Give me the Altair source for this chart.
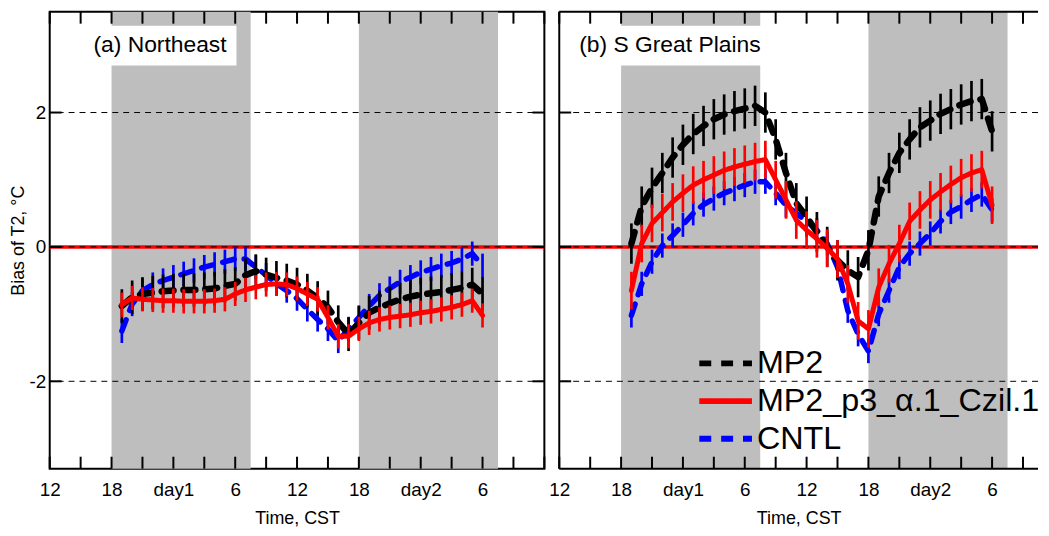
import altair as alt
import pandas as pd

FONT = "Liberation Sans"

hours = list(range(19, 55))
series_names = ["MP2", "MP2_p3_\u03b1.1_Czil.1", "CNTL"]
series_colors = ["#000000", "#ff0000", "#0000ff"]
series_widths = [6.5, 5, 5.5]
series_dashes = [[12, 10], [1, 0], [12, 10]]

# (a) Northeast
ne_mp2 = [-0.88, -0.75, -0.70, -0.68, -0.66, -0.65, -0.64, -0.64, -0.63, -0.62, -0.58, -0.55,
          -0.42, -0.36, -0.41, -0.46, -0.50, -0.56, -0.65, -0.76, -0.90, -1.12, -1.30, -1.13,
          -0.98, -0.90, -0.84, -0.78, -0.74, -0.71, -0.69, -0.67, -0.64, -0.61, -0.56, -0.70]
ne_p3 = [-0.86, -0.76, -0.78, -0.79, -0.80, -0.80, -0.81, -0.81, -0.81, -0.80, -0.78, -0.70,
         -0.64, -0.60, -0.56, -0.55, -0.56, -0.62, -0.70, -0.78, -1.05, -1.33, -1.33, -1.22,
         -1.13, -1.08, -1.05, -1.03, -1.01, -0.98, -0.96, -0.93, -0.90, -0.86, -0.80, -1.02]
ne_cntl = [-1.25, -0.85, -0.65, -0.56, -0.50, -0.45, -0.40, -0.35, -0.30, -0.26, -0.22, -0.18,
           -0.18, -0.30, -0.42, -0.55, -0.65, -0.77, -0.93, -1.08, -1.22, -1.40, -1.22, -1.05,
           -0.88, -0.72, -0.62, -0.52, -0.45, -0.38, -0.33, -0.28, -0.24, -0.18, -0.10, -0.28]
ne_err = [0.25, 0.18, 0.18]

# (b) S Great Plains
sgp_mp2 = [0.05, 0.60, 0.88, 1.10, 1.33, 1.52, 1.68, 1.80, 1.90, 1.97, 2.02, 2.06,
           2.10, 2.00, 1.60, 1.10, 0.65, 0.45, 0.22, 0.00, -0.20, -0.35, -0.45, -0.05,
           0.75, 1.10, 1.40, 1.60, 1.78, 1.88, 1.98, 2.05, 2.12, 2.17, 2.20, 1.72]
sgp_p3 = [-0.65, 0.05, 0.35, 0.51, 0.67, 0.80, 0.92, 1.00, 1.07, 1.14, 1.19, 1.23,
          1.27, 1.30, 1.00, 0.70, 0.40, 0.25, 0.12, -0.02, -0.18, -0.55, -1.10, -1.22,
          -0.60, -0.25, 0.05, 0.38, 0.55, 0.70, 0.82, 0.93, 1.03, 1.10, 1.15, 0.62]
sgp_cntl = [-1.02, -0.55, -0.22, 0.02, 0.17, 0.33, 0.50, 0.63, 0.72, 0.80, 0.86, 0.92,
            0.97, 0.97, 0.80, 0.62, 0.50, 0.38, 0.25, 0.05, -0.30, -0.95, -1.30, -1.55,
            -1.00, -0.65, -0.30, -0.10, 0.05, 0.20, 0.38, 0.52, 0.60, 0.70, 0.78, 0.55]
sgp_err = [0.30, 0.28, 0.18]

night_starts = [18, 42]
night_ends = [31.5, 55.5]

x_label_values = [12, 18, 24, 30, 36, 42, 48, 54]
x_label_texts = ["12", "18", "day1", "6", "12", "18", "day2", "6"]
x_tick_values = list(range(12, 61, 3))
y_label_values = [-2, 0, 2]

H = 460
W_A = 498
W_B = 482
Y_DOMAIN = [-3.3, 3.5]
XMAX_A = 60
XMAX_B = 12 + W_B * 48 / W_A

x_label_expr = " : ".join(
    f"datum.value == {v} ? '{t}'" for v, t in zip(x_label_values, x_label_texts)
) + " : ''"


def panel_df(vals_list, errs):
    rows = []
    for name, vals, e in zip(series_names, vals_list, errs):
        for h, v in zip(hours, vals):
            rows.append(dict(hour=h, value=v, lo=v - e, hi=v + e, series=name))
    return pd.DataFrame(rows)


def build_panel(vals_list, errs, label, label_x, box_x0, box_x1, xmax, width, first):
    xscale = alt.Scale(domain=[12, xmax], nice=False, zero=False)
    yscale = alt.Scale(domain=Y_DOMAIN, nice=False, zero=False)
    xaxis = alt.Axis(values=x_label_values, labelExpr=x_label_expr, ticks=False, domain=False,
                     grid=False, labelFontSize=19, labelFont=FONT, labelColor="black",
                     labelPadding=12, labelFlush=False, labelOverlap=False,
                     title="Time, CST", titleFont=FONT, titleFontSize=18,
                     titleFontWeight="normal", titleColor="black", titlePadding=10)
    if first:
        yaxis = alt.Axis(values=y_label_values, labelExpr="'' + datum.value", ticks=False,
                         domain=False, grid=False, labelFontSize=19, labelFont=FONT,
                         labelColor="black", labelPadding=4, title="Bias of T2, \u00b0C",
                         titleFont=FONT, titleFontSize=18, titleFontWeight="normal",
                         titleColor="black", titlePadding=2)
    else:
        yaxis = None

    def X(f):
        return alt.X(f, type="quantitative", scale=xscale, axis=xaxis)

    def Y(f):
        return alt.Y(f, type="quantitative", scale=yscale, axis=yaxis)

    cscale = alt.Scale(domain=series_names, range=series_colors)
    dscale = alt.Scale(domain=series_names, range=series_dashes)

    df = panel_df(vals_list, errs)
    layers = []

    bands = alt.Chart(pd.DataFrame({"s": night_starts, "e": night_ends})).mark_rect(
        color="#bebebe").encode(x=X("s"), x2="e", y=alt.value(0), y2=alt.value(H))
    layers.append(bands)

    box = alt.Chart(pd.DataFrame({"x0": [box_x0], "x1": [box_x1], "y0": [3.29], "y1": [2.70]})
                    ).mark_rect(color="white").encode(x=X("x0"), x2="x1", y=Y("y0"), y2="y1")
    layers.append(box)

    grid = alt.Chart(pd.DataFrame({"v": [-2, 2]})).mark_rule(
        color="black", strokeWidth=1, strokeDash=[6, 5]).encode(y=Y("v"))
    layers.append(grid)

    zero_df = pd.DataFrame({"v": [0]})
    layers.append(alt.Chart(zero_df).mark_rule(color="#ff0000", strokeWidth=3.5).encode(y=Y("v")))
    layers.append(alt.Chart(zero_df).mark_rule(color="black", strokeWidth=1,
                                               strokeDash=[6, 5]).encode(y=Y("v")))

    for i in [2, 0, 1]:
        name = series_names[i]
        sub = df[df.series == name]
        layers.append(alt.Chart(sub).mark_rule(color=series_colors[i], strokeWidth=2.7).encode(
            x=X("hour"), y=Y("lo"), y2="hi"))
        if first:
            enc = dict(color=alt.Color("series:N", scale=cscale, legend=None),
                       strokeDash=alt.StrokeDash("series:N", scale=dscale, legend=None))
        else:
            enc = dict(color=alt.Color("series:N", scale=cscale, title=""),
                       strokeDash=alt.StrokeDash("series:N", scale=dscale, title=""))
        layers.append(alt.Chart(sub).mark_line(strokeWidth=series_widths[i], strokeCap="round",
                                               strokeJoin="round").encode(
            x=X("hour"), y=Y("value"), **enc))

    xt = alt.Chart(pd.DataFrame({"t": [t for t in x_tick_values if t <= xmax]})).mark_rule(
        color="black", strokeWidth=2)
    layers.append(xt.encode(x=X("t"), y=alt.value(H - 12), y2=alt.value(H)))
    layers.append(xt.encode(x=X("t"), y=alt.value(0), y2=alt.value(12)))
    yt = alt.Chart(pd.DataFrame({"v": y_label_values})).mark_rule(color="black", strokeWidth=2)
    layers.append(yt.encode(y=Y("v"), x=alt.value(0), x2=alt.value(12)))
    if first:
        layers.append(yt.encode(y=Y("v"), x=alt.value(width - 12), x2=alt.value(width)))
    else:
        edge = alt.Chart(pd.DataFrame({"x": [12], "ytop": [Y_DOMAIN[1]], "ybot": [Y_DOMAIN[0]]})
                         ).mark_rule(color="black", strokeWidth=2)
        layers.append(edge.encode(x=X("x"), y=alt.value(0), y2=alt.value(H)))
        layers.append(edge.encode(y=Y("ytop"), x=alt.value(0), x2=alt.value(width)))
        layers.append(edge.encode(y=Y("ybot"), x=alt.value(0), x2=alt.value(width)))

    txt = alt.Chart(pd.DataFrame({"t": [label], "x": [label_x], "y": [3.0]})).mark_text(
        align="left", baseline="middle", fontSize=23, font=FONT, color="black").encode(
        x=X("x"), y=Y("y"), text="t:N")
    layers.append(txt)

    if first:
        view = alt.ViewBackground(stroke="black", strokeWidth=2)
    else:
        view = alt.ViewBackground(stroke="transparent")
    return alt.layer(*layers).properties(width=width, height=H, view=view)


panel_a = build_panel([ne_mp2, ne_p3, ne_cntl], ne_err, "(a) Northeast",
                      16.24, 15.76, 30.12, XMAX_A, W_A, True)
panel_b = build_panel([sgp_mp2, sgp_p3, sgp_cntl], sgp_err, "(b) S Great Plains",
                      13.93, 13.3, 31.8, XMAX_B, W_B, False)

chart = alt.hconcat(panel_a, panel_b, spacing=0).resolve_scale(
    x="independent", y="independent", color="independent", strokeDash="independent"
).properties(padding={"left": 0, "top": 0, "right": 0, "bottom": 0}).configure_legend(
    orient="none", legendX=138, legendY=335, symbolType="stroke", symbolSize=2809,
    symbolStrokeWidth=6, labelFontSize=32.5, labelFont=FONT, labelColor="black", padding=0,
    labelOffset=2, rowPadding=0, titlePadding=0, labelLimit=0, clipHeight=38
)

chart.save("out.html", embed_options={"renderer": "svg", "actions": False})
